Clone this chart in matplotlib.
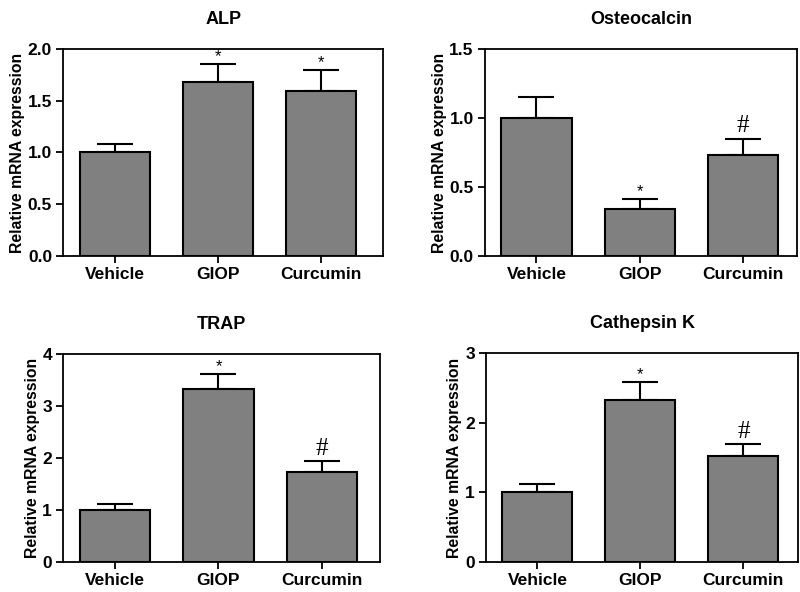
import matplotlib
matplotlib.use("Agg")
import matplotlib.pyplot as plt

plt.rcParams['font.family'] = ['Liberation Sans', 'DejaVu Sans']
plt.rcParams['font.weight'] = 'bold'

groups = ['Vehicle', 'GIOP', 'Curcumin']

alp = [1.0, 1.68, 1.59]
alp_err = [0.08, 0.17, 0.21]
alp_marks = ['', '*', '*']

ocn = [1.0, 0.34, 0.73]
ocn_err = [0.15, 0.07, 0.12]
ocn_marks = ['', '*', '#']

trap = [1.0, 3.33, 1.73]
trap_err = [0.12, 0.28, 0.20]
trap_marks = ['', '*', '#']

ctsk = [1.0, 2.33, 1.52]
ctsk_err = [0.12, 0.25, 0.17]
ctsk_marks = ['', '*', '#']

panels = [
    # title, values, errors, marks, ylim, yticks, ytick labels, axes rect, xlim
    ('ALP', alp, alp_err, alp_marks, 2.0, [0, 0.5, 1.0, 1.5, 2.0],
     ['0.0', '0.5', '1.0', '1.5', '2.0'], [0.079, 0.5676, 0.400, 0.3497], (-0.5, 2.6)),
    ('Osteocalcin', ocn, ocn_err, ocn_marks, 1.5, [0, 0.5, 1.0, 1.5],
     ['0.0', '0.5', '1.0', '1.5'], [0.606, 0.5676, 0.390, 0.3497], (-0.5, 2.52)),
    ('TRAP', trap, trap_err, trap_marks, 4, [0, 1, 2, 3, 4],
     ['0', '1', '2', '3', '4'], [0.079, 0.0507, 0.396, 0.3520], (-0.5, 2.56)),
    ('Cathepsin K', ctsk, ctsk_err, ctsk_marks, 3, [0, 1, 2, 3],
     ['0', '1', '2', '3'], [0.6075, 0.0507, 0.390, 0.3530], (-0.5, 2.53)),
]

fig = plt.figure(figsize=(8, 5.92), dpi=100)

for title, vals, errs, marks, ymax, yt, ytl, rect, xl in panels:
    ax = fig.add_axes(rect)
    x = range(len(groups))
    ax.bar(x, vals, width=0.68, color='#808080', edgecolor='black', linewidth=1.5, zorder=2)
    ax.errorbar(x, vals, yerr=[[0] * len(errs), errs], fmt='none', ecolor='black',
                elinewidth=1.5, capsize=13, capthick=1.5, zorder=1)
    for i, m in enumerate(marks):
        if not m:
            continue
        top = vals[i] + errs[i]
        if m == '*':
            ax.annotate(m, (i, top), xytext=(0, 0), textcoords='offset points',
                        ha='center', va='bottom', fontsize=12, fontweight='normal')
        else:
            ax.annotate(m, (i, top), xytext=(0, 1), textcoords='offset points',
                        ha='center', va='bottom', fontsize=18, fontweight='normal',
                        family=['Liberation Serif', 'DejaVu Serif'])
    ax.set_xlim(*xl)
    ax.set_ylim(0, ymax)
    ax.set_yticks(yt)
    ax.set_yticklabels(ytl)
    ax.set_xticks(list(x))
    ax.set_xticklabels(groups)
    ax.tick_params(direction='out', length=5, width=1.3, labelsize=12.5, pad=3)
    for s in ax.spines.values():
        s.set_linewidth(1.3)
    ax.set_ylabel('Relative mRNA expression', fontsize=11.3, fontweight='bold', labelpad=2)
    ax.set_title(title, fontsize=13, fontweight='bold', pad=18)

fig.savefig('out.png', dpi=100)
